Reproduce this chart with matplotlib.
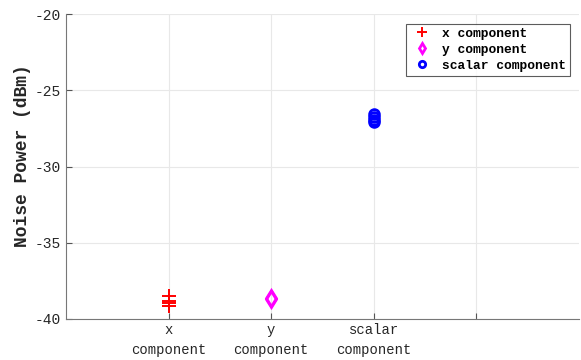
import numpy as np
import matplotlib.pyplot as plt

plt.rcParams['font.family'] = ['Liberation Mono', 'DejaVu Sans Mono']
plt.rcParams['axes.unicode_minus'] = False

# noise power readings (dBm) per component
x_vals = [-38.5, -38.8, -38.95, -39.15]
y_vals = [-38.6, -38.7]
s_vals = [-26.55, -26.75, -26.95, -27.05]

tick_pos = [1, 2, 3, 4]
tick_labels = ['x\ncomponent', 'y\ncomponent', 'scalar\ncomponent', '']

fig = plt.figure(figsize=(5.81, 3.60), dpi=100)
ax = fig.add_axes([66/581, 41/360, 513/581, 305/360])

ax.plot(np.full(len(x_vals), 1), x_vals, '+', color='red', ms=10, mew=1.4,
        linestyle='none', label='x component')
ax.plot(np.full(len(y_vals), 2), y_vals, 'd', color='magenta', ms=8, mew=2,
        mfc='none', linestyle='none', label='y component')
ax.plot(np.full(len(s_vals), 3), s_vals, 'o', color='blue', ms=7, mew=2,
        mfc='none', linestyle='none', label='scalar component')

ax.set_xlim(0, 5)
ax.set_ylim(-40, -20)
ax.set_xticks(tick_pos)
ax.set_xticklabels(tick_labels, fontsize=10, color='#262626', linespacing=1.55)
ax.set_yticks([-40, -35, -30, -25, -20])
ax.tick_params(axis='y', labelsize=10.5, labelcolor='#262626')
ax.tick_params(axis='x', pad=3)
ax.tick_params(direction='in', color='#555555', length=4)

ax.grid(True, color='#e8e8e8', linewidth=0.8)
ax.set_axisbelow(True)
for side in ['top', 'right']:
    ax.spines[side].set_visible(False)
for side in ['left', 'bottom']:
    ax.spines[side].set_color('#777777')

ax.set_ylabel('Noise Power (dBm)', fontsize=13, fontweight='bold',
              color='#262626')
ax.yaxis.set_label_coords(-0.068, 0.536)

leg = ax.legend(loc='upper right', bbox_to_anchor=(0.9825, 0.967),
                borderaxespad=0, fontsize=9.3, markerscale=0.65,
                frameon=True, fancybox=False, handlelength=1.9,
                handletextpad=0.6, borderpad=0.3, labelspacing=0.3)
leg.get_frame().set_edgecolor('#333333')
leg.get_frame().set_linewidth(0.8)
for t in leg.get_texts():
    t.set_fontweight('bold')

fig.savefig('out.png', dpi=100)
